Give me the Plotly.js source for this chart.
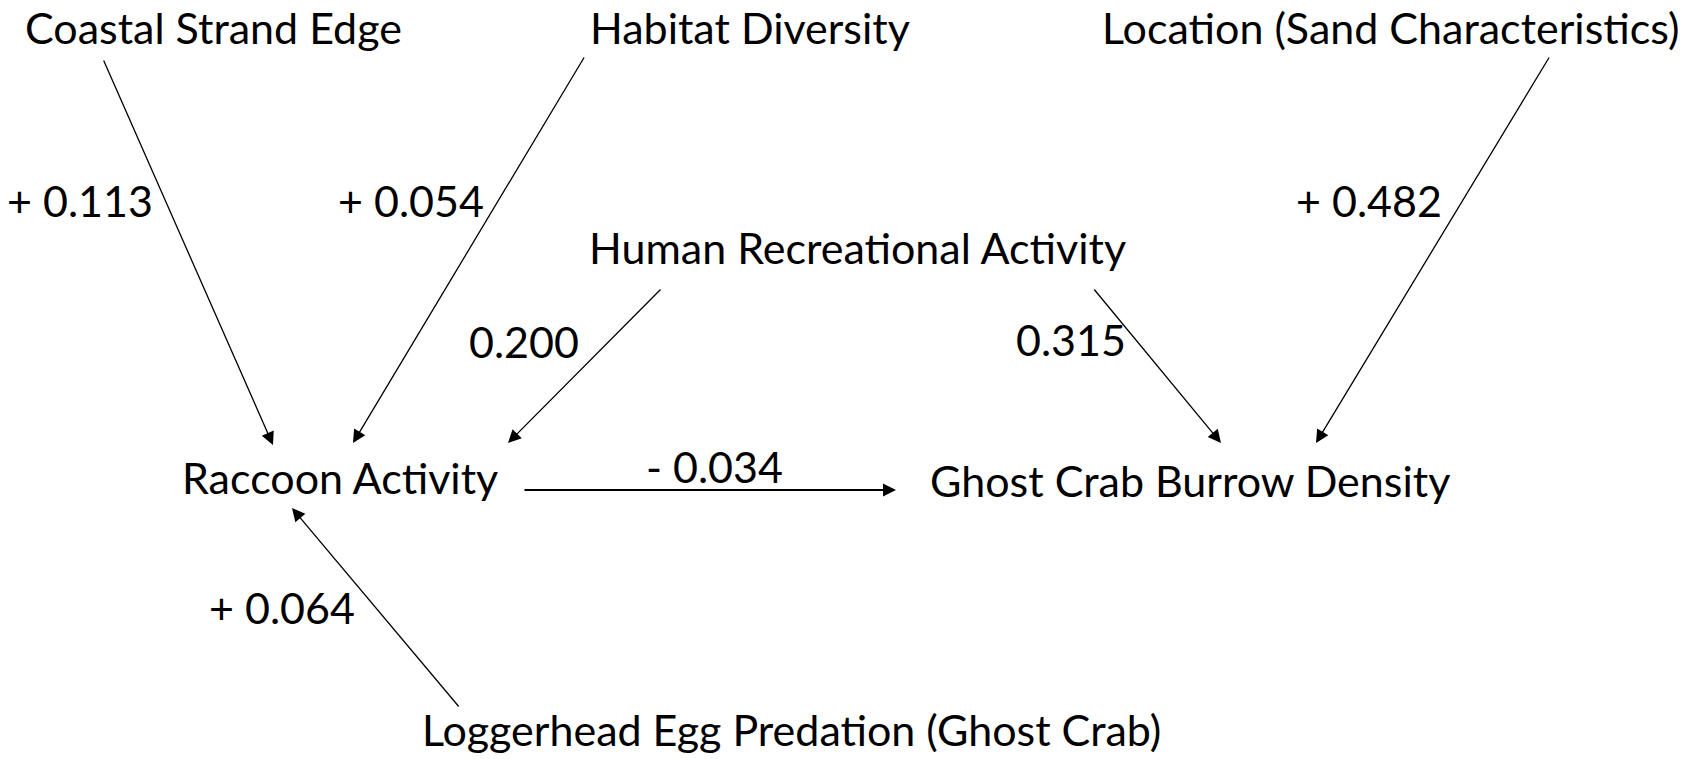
<!DOCTYPE html>
<html>
<head>
<meta charset="utf-8">
<script src="https://cdn.plot.ly/plotly-3.0.1.min.js"></script>
<style>
html,body{margin:0;padding:0;background:#fff;}
#chart{width:1695px;height:759px;}
</style>
</head>
<body>
<div id="chart"></div>
<script>
// Node names (variables of the path diagram)
const nodeNames = [
  "Coastal Strand Edge",
  "Habitat Diversity",
  "Location (Sand Characteristics)",
  "Human Recreational Activity",
  "Raccoon Activity",
  "Ghost Crab Burrow Density",
  "Loggerhead Egg Predation (Ghost Crab)"
];
// Path coefficients (as printed) and which nodes they connect
const coefLabels = ["+ 0.113", "+ 0.054", "+ 0.482", "0.200", "0.315", "- 0.034", "+ 0.064"];
const pathFrom   = [0, 1, 2, 3, 3, 4, 6];
const pathTo     = [4, 4, 5, 4, 5, 5, 4];

// Layout positions (pixel-like coordinates of the diagram canvas)
const nodeX = [213, 750, 1390, 857, 340, 1190, 791];
const nodeY = [27, 27, 27, 247, 477, 480, 729];
const labelX = [80, 411, 1369, 524, 1071, 714, 282];
const labelY = [200, 200, 200, 341, 339, 466, 607];
const arrowTailX = [103, 585, 1550, 662, 1093, 523, 460];
const arrowTailY = [59, 56, 56, 288, 288, 490, 708];
const arrowHeadX = [273, 353, 1316, 508, 1221, 896, 292];
const arrowHeadY = [445, 443, 443, 443, 443, 490, 508];
const arrowW = [1.3, 1.3, 1.3, 1.3, 1.3, 2, 1.3];

const FONT = {family: "Lato, 'Open Sans', sans-serif", size: 43, color: "#000"};

const annotations = [];
nodeNames.forEach((n, i) => {
  annotations.push({
    x: nodeX[i], y: nodeY[i], xref: "x", yref: "y",
    text: n, showarrow: false, xanchor: "center", yanchor: "middle",
    font: FONT
  });
});
coefLabels.forEach((c, i) => {
  annotations.push({
    x: labelX[i], y: labelY[i], xref: "x", yref: "y",
    text: c, showarrow: false, xanchor: "center", yanchor: "middle",
    font: FONT
  });
  annotations.push({
    x: arrowHeadX[i], y: arrowHeadY[i], xref: "x", yref: "y",
    ax: arrowTailX[i], ay: arrowTailY[i], axref: "x", ayref: "y",
    text: "", showarrow: true, arrowhead: 2,
    arrowsize: 2.0 * 1.3 / arrowW[i], arrowwidth: arrowW[i], arrowcolor: "#000",
    standoff: 0, startstandoff: 0
  });
});

const layout = {
  width: 1695, height: 759,
  margin: {l: 0, r: 0, t: 0, b: 0},
  paper_bgcolor: "#fff", plot_bgcolor: "#fff",
  showlegend: false,
  xaxis: {range: [0, 1695], visible: false, fixedrange: true},
  yaxis: {range: [759, 0], visible: false, fixedrange: true},
  annotations: annotations
};

Plotly.newPlot("chart", [{x: [], y: [], type: "scatter", mode: "markers", hoverinfo: "skip"}], layout, {staticPlot: true, displayModeBar: false});
</script>
</body>
</html>
